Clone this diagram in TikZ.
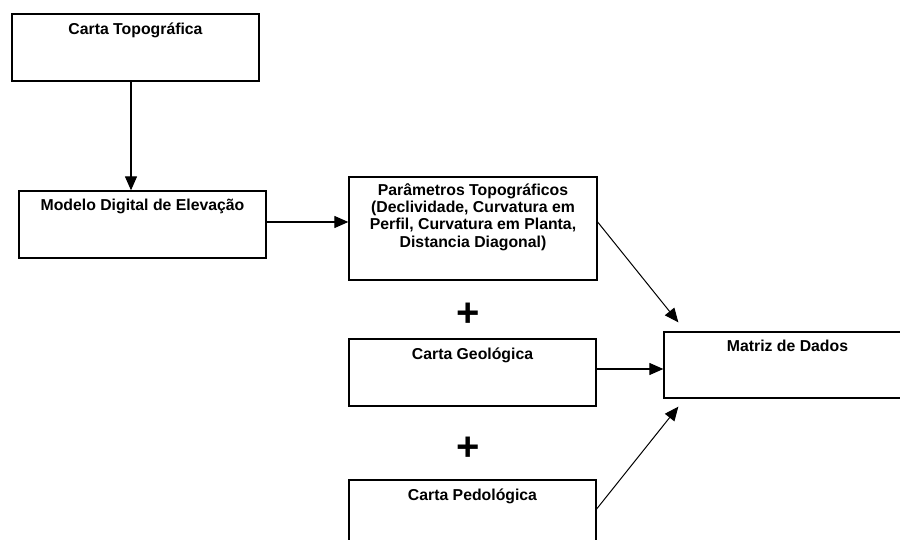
\documentclass[tikz,border=0pt]{standalone}
\usepackage{fontspec}
\setmainfont{Liberation Sans}
\usetikzlibrary{arrows.meta,calc}
\begin{document}
\begin{tikzpicture}[x=1pt,y=-1pt,
  box/.style={draw=black,line width=1.3pt,rectangle,inner sep=0pt,minimum width=247pt,minimum height=67pt},
  txt/.style={anchor=base,inner sep=0pt,align=center,font=\fontsize{15.8}{17.3}\selectfont\bfseries},
  plus/.style={inner sep=0pt,font=\fontsize{40}{40}\selectfont\bfseries},
  arr/.style={line width=1.2pt,-{Triangle[length=14pt,width=12pt]}}]
\useasboundingbox (0,0) rectangle (900,540);
\node[box] (b1) at (135.5,47.5) {};
\node[box] (b2) at (142.5,224.5) {};
\node[box,minimum width=248pt,minimum height=103pt] (b3) at (473,228.5) {};
\node[box] (b4) at (472.5,372.5) {};
\node[box] (b5) at (472.5,513.5) {};
\node[box,minimum height=66pt] (m) at (787.5,365) {};
\node[txt] (t1) at ([yshift=-21pt]b1.north) {Carta Topográfica};
\node[txt] (t2) at ([yshift=-20pt]b2.north) {Modelo Digital de Elevação};
\node[txt,anchor=north] (t3) at ([yshift=-7pt]b3.north) {Parâmetros Topográficos\\(Declividade, Curvatura em\\Perfil, Curvatura em Planta,\\Distancia Diagonal)};
\node[txt] (t4) at ([yshift=-21pt]b4.north) {Carta Geológica};
\node[txt] (t5) at ([yshift=-21pt]b5.north) {Carta Pedológica};
\node[txt] (tm) at ([yshift=-20pt]m.north) {Matriz de Dados};
\node[plus] (p1) at (468.5,315) {+};
\node[plus] (p2) at (468.5,449) {+};
\draw[arr] ([xshift=-4.5pt]b1.south) -- ([xshift=-4.5pt]b1.south |- b2.north);
\draw[arr] ([yshift=2.5pt]b2.east) -- ([yshift=2.5pt]b2.east -| b3.west);
\draw[arr,line width=1pt] ([yshift=6.5pt]b3.east) -- ([xshift=15pt,yshift=9pt]m.north west);
\draw[arr] ([yshift=3.5pt]b4.east) -- ([yshift=3.5pt]b4.east -| m.west);
\draw[arr,line width=1pt] ([yshift=4.5pt]b5.east) -- ([xshift=15pt,yshift=-8pt]m.south west);
\end{tikzpicture}
\end{document}
